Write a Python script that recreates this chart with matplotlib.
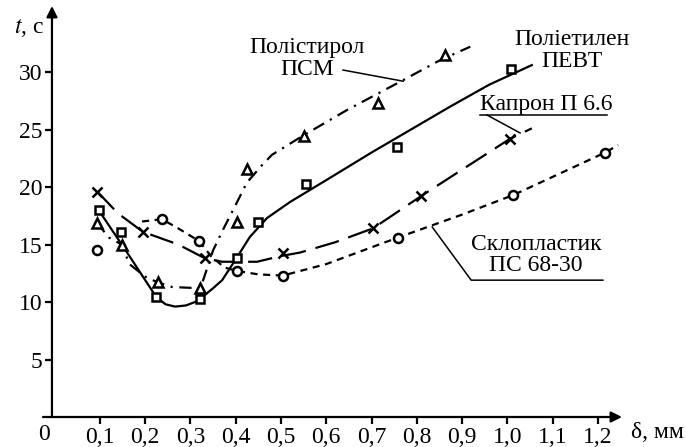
import matplotlib.pyplot as plt
import numpy as np

plt.rcParams['font.family'] = ['Liberation Serif', 'DejaVu Serif']
plt.rcParams['mathtext.fontset'] = 'stix'
FS = 17

# -- measured points (delta, mm ; t, s) -----
ps_x = [0.093, 0.148, 0.228, 0.321, 0.402, 0.425, 0.551, 0.714, 0.862]
ps_t = [16.9, 15.0, 11.7, 11.2, 17.0, 21.6, 24.4, 27.3, 31.5]

pe_x = [0.097, 0.147, 0.224, 0.321, 0.403, 0.449, 0.555, 0.756, 1.007]
pe_t = [18.0, 16.1, 10.4, 10.3, 13.8, 17.0, 20.3, 23.5, 30.3]

kp_x = [0.094, 0.195, 0.332, 0.505, 0.703, 0.809, 1.006]
kp_t = [19.6, 16.1, 13.8, 14.3, 16.4, 19.2, 24.2]

sk_x = [0.093, 0.237, 0.319, 0.403, 0.504, 0.758, 1.013, 1.216]
sk_t = [14.5, 17.2, 15.3, 12.7, 12.3, 15.6, 19.3, 23.0]

# -- hand-drawn approximating curves -----
ps_fit_x = [0.093, 0.12, 0.148, 0.165, 0.20, 0.228, 0.26, 0.32, 0.328, 0.35,
            0.372, 0.394, 0.425, 0.458, 0.48, 0.55, 0.646, 0.77, 0.85, 0.918]
ps_fit_t = [16.9, 15.6, 15.0, 13.3, 12.2, 11.7, 11.3, 11.2, 11.9, 14.5,
            16.3, 18.0, 20.4, 21.9, 22.8, 24.5, 26.7, 29.3, 31.0, 32.2]

pe_fit_x = [0.097, 0.16, 0.225, 0.245, 0.266, 0.29, 0.31, 0.325, 0.35, 0.37,
            0.403, 0.431, 0.469, 0.52, 0.60, 0.70, 0.874, 0.96, 1.054]
pe_fit_t = [18.0, 14.3, 10.4, 9.8, 9.6, 9.7, 10.0, 10.4, 11.2, 11.9,
            13.9, 15.65, 17.3, 18.7, 20.6, 23.0, 27.0, 28.9, 30.6]

kp_fit_x = [0.094, 0.14, 0.195, 0.273, 0.332, 0.37, 0.427, 0.447, 0.50,
            0.542, 0.62, 0.703, 0.809, 1.006, 1.054]
kp_fit_t = [19.6, 17.7, 16.1, 15.0, 13.8, 13.5, 13.5, 13.5, 14.0,
            14.3, 15.2, 16.4, 19.2, 24.2, 25.1]

sk_fit_x = [0.193, 0.237, 0.273, 0.319, 0.345, 0.375, 0.403, 0.45, 0.504,
            0.60, 0.758, 0.90, 1.013, 1.101, 1.216, 1.245]
sk_fit_t = [17.0, 17.2, 16.4, 15.3, 14.0, 13.0, 12.7, 12.4, 12.3,
            13.3, 15.6, 17.6, 19.3, 20.9, 23.0, 23.65]

x_ticks = [0.1, 0.2, 0.3, 0.4, 0.5, 0.6, 0.7, 0.8, 0.9, 1.0, 1.1, 1.2]
x_labels = ['0,1', '0,2', '0,3', '0,4', '0,5', '0,6', '0,7', '0,8', '0,9', '1,0', '1,1', '1,2']
y_ticks = [5, 10, 15, 20, 25, 30]

W, H = 686, 447
fig = plt.figure(figsize=(W / 100, H / 100), dpi=100)
ax = fig.add_axes([43 / W, 30 / H, (622 - 43) / W, (417 - 6) / H])
x0, x1 = -0.0258, 1.2532
y0, y1 = 0, 35.74
yaxis_x = -0.006
ax.set_xlim(x0, x1)
ax.set_ylim(y0, y1)

# axes drawn as arrows
for s in ax.spines.values():
    s.set_visible(False)
ax.spines['left'].set_position(('data', yaxis_x))
arrow = dict(arrowstyle='-|>', color='black', lw=1.6, mutation_scale=16, shrinkA=0, shrinkB=0)
ax.annotate('', xy=(x1, 0), xytext=(x0, 0), arrowprops=arrow, annotation_clip=False)
ax.annotate('', xy=(yaxis_x, y1), xytext=(yaxis_x, 0), arrowprops=arrow, annotation_clip=False)

ax.set_xticks(x_ticks)
ax.set_xticklabels(x_labels)
ax.set_yticks(y_ticks)
ax.tick_params(axis='both', direction='out', length=5, width=1.6, labelsize=FS, pad=2)
ax.text(yaxis_x - 0.004, -0.6, '0', fontsize=FS, ha='right', va='top')

lw = 1.6
ax.plot(ps_fit_x, ps_fit_t, color='black', lw=lw, ls=(0, (5.5, 3, 1, 3)))
ax.plot(pe_fit_x, pe_fit_t, color='black', lw=lw, ls='-')
ax.plot(kp_fit_x, kp_fit_t, color='black', lw=lw, ls=(0, (11, 4.5)))
ax.plot(sk_fit_x, sk_fit_t, color='black', lw=lw, ls=(0, (3.2, 2.5)))

mk = dict(ls='none', color='black', mfc='white', mew=1.8, zorder=3)
ax.plot(ps_x, ps_t, marker='^', ms=7.5, **mk)
ax.plot(pe_x, pe_t, marker='s', ms=6, **mk)
ax.plot(kp_x, kp_t, marker='x', ms=6.5, **mk)
ax.plot(sk_x, sk_t, marker='o', ms=6.5, **mk)

# curve labels with leaders
ax.text(0.557, 31.2, 'Полістирол\nПСМ', fontsize=FS, ha='center', va='center',
        linespacing=1.05)
ax.plot([0.637, 0.77], [30.17, 29.2], color='black', lw=1.1)

ax.text(1.143, 31.9, 'Поліетилен\nПЕВТ', fontsize=FS, ha='center', va='center',
        linespacing=1.05)

ax.text(0.94, 27.2, 'Капрон П 6.6', fontsize=FS, ha='left', va='center')
ax.plot([0.94, 1.221], [26.26, 26.26], color='black', lw=1.1)
ax.plot([0.955, 1.028], [26.26, 24.7], color='black', lw=1.1)

ax.text(1.063, 14.1, 'Склопластик\nПС 68-30', fontsize=FS, ha='center', va='center',
        linespacing=1.0)
ax.plot([0.834, 0.92, 1.211], [16.52, 11.9, 11.9], color='black', lw=1.1)

fig.text(44 / W, 1 - 28 / H, r'$t$, с', fontsize=FS, ha='right', va='center')
fig.text(631 / W, 1 - 432 / H, 'δ, мм', fontsize=FS, ha='left', va='center')

plt.savefig('out.png', dpi=100)
